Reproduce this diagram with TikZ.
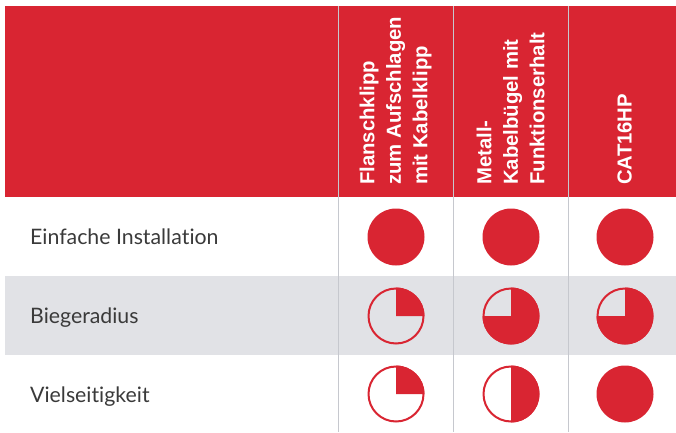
\documentclass[tikz,border=0pt]{standalone}
\usepackage{fontspec}
\setmainfont{Lato}[Ligatures={NoCommon,NoRare,NoDiscretionary}]
\newfontfamily\headfont{Liberation Sans}
\definecolor{hdred}{HTML}{D92532}
\definecolor{rowgrey}{HTML}{E1E2E6}
\definecolor{sepgrey}{HTML}{C6C8CE}
\definecolor{lbltext}{HTML}{3A3A3A}
\tikzset{
  headtxt/.style={anchor=west, rotate=90, align=left, inner sep=0pt, text=white,
    font=\headfont\bfseries\fontsize{20.3}{26.5}\selectfont},
  rowtxt/.style={anchor=base west, inner sep=0pt, text=lbltext,
    font=\fontsize{21.3}{25}\selectfont},
  ring/.style={draw=hdred, line width=2pt},
  pie/.style={fill=hdred},
  sepline/.style={draw=sepgrey, line width=1pt}
}
\begin{document}
\begin{tikzpicture}[x=1pt,y=1pt]
\useasboundingbox (0,0) rectangle (676,432);
\fill[white] (0,0) rectangle (676,432);
% header
\fill[hdred] (5,426) rectangle (676,235);
% grey row
\fill[rowgrey] (5,156) rectangle (676,77);
% separators
\foreach \xx in {338.5,453,568} \draw[sepline] (\xx,426) -- (\xx,0);
% header texts
\node[headtxt] (h1) at (395.5,247) {Flanschklipp\\zum Aufschlagen\\mit Kabelklipp};
\node[headtxt] (h2) at (510.5,247) {Metall-\\Kabelbügel mit\\Funktionserhalt};
\node[headtxt] (h3) at (624.5,247) {CAT16HP};
% row labels
\node[rowtxt] (r1) at (30,188) {Einfache Installa\kern0pt tion};
\node[rowtxt] (r2) at (30,109) {Biegeradius};
\node[rowtxt] (r3) at (30,30) {Vielseitigkeit};
% circle centres
\coordinate (c11) at (396,195);
\coordinate (c12) at (511,195);
\coordinate (c13) at (625,195);
\coordinate (c21) at (396,116);
\coordinate (c22) at (511,116);
\coordinate (c23) at (625,116);
\coordinate (c31) at (396,38);
\coordinate (c32) at (511,38);
\coordinate (c33) at (625,38);
% row 1
\fill[pie] (c11) circle (28.5);
\fill[pie] (c12) circle (28.5);
\fill[pie] (c13) circle (28.5);
% row 2
\fill[pie] (c21) -- ++(90:28.5) arc (90:0:28.5) -- cycle;
\draw[ring] (c21) circle (27.5);
\fill[pie] (c22) -- ++(90:28.5) arc (90:-180:28.5) -- cycle;
\draw[ring] (c22) circle (27.5);
\fill[pie] (c23) -- ++(90:28.5) arc (90:-180:28.5) -- cycle;
\draw[ring] (c23) circle (27.5);
% row 3
\fill[pie] (c31) -- ++(90:28.5) arc (90:0:28.5) -- cycle;
\draw[ring] (c31) circle (27.5);
\fill[pie] (c32) -- ++(90:28.5) arc (90:-90:28.5) -- cycle;
\draw[ring] (c32) circle (27.5);
\fill[pie] (c33) circle (28.5);
\end{tikzpicture}
\end{document}
